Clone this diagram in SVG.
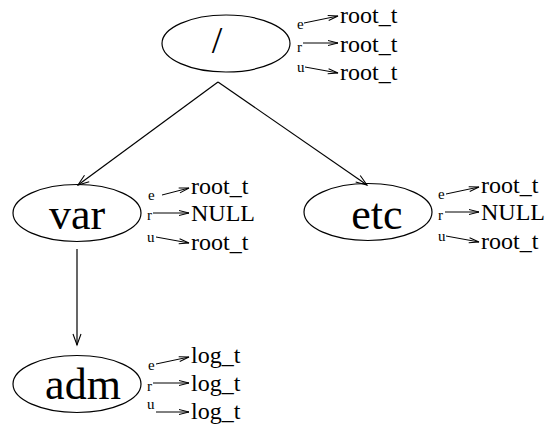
<svg xmlns="http://www.w3.org/2000/svg" width="549" height="428" viewBox="0 0 549 428">
  <style>
    .node ellipse { fill: none; stroke: #000; stroke-width: 1.2; }
    text { font-family: 'Liberation Serif', 'DejaVu Serif', serif; fill: #000; }
    .name { font-size: 44px; }
    .slash { font-size: 38px; }
    .tag { font-size: 15px; }
    .val { font-size: 24px; }
    .edge { stroke: #000; stroke-width: 1.2; fill: none; marker-end: url(#big); }
    .ptr { stroke: #000; stroke-width: 1; fill: none; marker-end: url(#small); }
  </style>
  <defs>
    <marker id="big" markerUnits="userSpaceOnUse" markerWidth="14" markerHeight="12" refX="12" refY="5" orient="auto">
      <path d="M1,1 L12,5 L1,9" fill="none" stroke="#000" stroke-width="1.1"/>
    </marker>
    <marker id="small" markerUnits="userSpaceOnUse" markerWidth="12" markerHeight="8" refX="11" refY="3.5" orient="auto">
      <path d="M1,1 L11,3.5 L1,6" fill="none" stroke="#000" stroke-width="1"/>
    </marker>
  </defs>

  <!-- tree edges -->
  <g id="connectors">
    <path class="edge" d="M218,82 L78,185"/>
    <path class="edge" d="M218,82 L367,185"/>
    <path class="edge" d="M77,249 L77,345"/>
  </g>

  <!-- root directory -->
  <g id="root" class="node">
    <ellipse cx="226" cy="43.5" rx="64" ry="28.5"/>
    <text class="slash" x="217" y="53" text-anchor="middle">/</text>
    <text class="tag" x="297" y="29">e</text>
    <path class="ptr" d="M304,23 L338,16"/>
    <text class="val" x="340" y="23">root_t</text>
    <text class="tag" x="297" y="52">r</text>
    <path class="ptr" d="M303,43 L338,43"/>
    <text class="val" x="340" y="52">root_t</text>
    <text class="tag" x="297" y="72">u</text>
    <path class="ptr" d="M305,67 L338,73"/>
    <text class="val" x="340" y="80">root_t</text>
  </g>

  <!-- /var -->
  <g id="var" class="node">
    <ellipse cx="77" cy="213" rx="64" ry="28.5"/>
    <text class="name" x="77" y="229" text-anchor="middle">var</text>
    <text class="tag" x="148" y="200">e</text>
    <path class="ptr" d="M162,195 L189,188"/>
    <text class="val" x="191" y="194">root_t</text>
    <text class="tag" x="147" y="220">r</text>
    <path class="ptr" d="M153,213 L189,213"/>
    <text class="val" x="191" y="221">NULL</text>
    <text class="tag" x="147" y="242">u</text>
    <path class="ptr" d="M156,237 L189,243"/>
    <text class="val" x="191" y="250">root_t</text>
  </g>

  <!-- /etc -->
  <g id="etc" class="node">
    <ellipse cx="368" cy="212" rx="64" ry="28.5"/>
    <text class="name" x="377" y="229" text-anchor="middle">etc</text>
    <text class="tag" x="438" y="199">e</text>
    <path class="ptr" d="M446,194 L479,187"/>
    <text class="val" x="481" y="193">root_t</text>
    <text class="tag" x="438" y="220">r</text>
    <path class="ptr" d="M445,212 L479,212"/>
    <text class="val" x="481" y="220">NULL</text>
    <text class="tag" x="438" y="241">u</text>
    <path class="ptr" d="M446,236 L479,242"/>
    <text class="val" x="481" y="249">root_t</text>
  </g>

  <!-- /var/adm -->
  <g id="adm" class="node">
    <ellipse cx="77" cy="384" rx="64" ry="28.5"/>
    <text class="name" x="83" y="399" text-anchor="middle">adm</text>
    <text class="tag" x="148" y="370">e</text>
    <path class="ptr" d="M156,364 L189,357"/>
    <text class="val" x="191" y="363">log_t</text>
    <text class="tag" x="147" y="391">r</text>
    <path class="ptr" d="M153,383 L189,383"/>
    <text class="val" x="191" y="391">log_t</text>
    <text class="tag" x="147" y="409">u</text>
    <path class="ptr" d="M156,412 L189,412"/>
    <text class="val" x="191" y="419">log_t</text>
  </g>
</svg>
